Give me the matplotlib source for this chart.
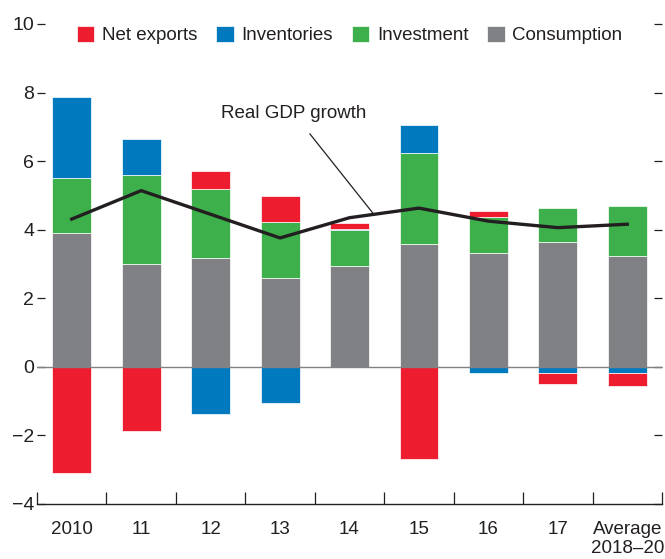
import numpy as np
import matplotlib
matplotlib.use('Agg')
import matplotlib.pyplot as plt

plt.rcParams['font.family'] = ['Liberation Sans', 'DejaVu Sans']

labels = ['2010', '11', '12', '13', '14', '15', '16', '17', 'Average\n2018\u201320']
consumption = [3.91, 3.00, 3.18, 2.59, 2.93, 3.57, 3.32, 3.64, 3.24]
investment = [1.60, 2.61, 2.02, 1.63, 1.05, 2.68, 1.06, 0.98, 1.46]
inventories = [2.36, 1.05, -1.38, -1.05, 0.05, 0.80, -0.17, -0.17, -0.17]
net_exports = [-3.09, -1.88, 0.50, 0.75, 0.17, -2.70, 0.18, -0.34, -0.40]
gdp = [4.31, 5.14, 4.45, 3.76, 4.35, 4.63, 4.25, 4.06, 4.16]

red = '#ED1C2E'
blue = '#0079BE'
green = '#3DB04B'
gray = '#808184'
txt = '#231F20'

fig = plt.figure(figsize=(6.65, 5.59), dpi=100)
ax = fig.add_axes([37/665, 55/559, 625/665, 480/559])

x = np.arange(len(labels))
w = 0.56
pos = np.zeros(len(x))
neg = np.zeros(len(x))
series = [(consumption, gray, 'Consumption'), (investment, green, 'Investment'),
          (inventories, blue, 'Inventories'), (net_exports, red, 'Net exports')]
handles = {}
for vals, col, name in series:
    vals = np.array(vals)
    bottoms = np.where(vals >= 0, pos, neg)
    b = ax.bar(x, vals, w, bottom=bottoms, color=col, edgecolor='white', linewidth=0.5, zorder=2)
    handles[name] = b
    pos = pos + np.where(vals >= 0, vals, 0)
    neg = neg + np.where(vals < 0, vals, 0)

ax.axhline(0, color='#808184', lw=1, zorder=3)
ax.plot(x, gdp, color='#231F20', lw=2.4, zorder=4)

ax.annotate('Real GDP growth', xy=(4.35, 4.45), xytext=(3.2, 7.38),
            fontsize=13.5, color=txt, ha='center', va='center',
            arrowprops=dict(arrowstyle='-', color=txt, lw=0.9, shrinkA=8, shrinkB=0))

order = ['Net exports', 'Inventories', 'Investment', 'Consumption']
ax.legend([handles[n] for n in order], order, loc='center', ncol=4, frameon=False,
          fontsize=13.5, bbox_to_anchor=(0.5, 0.977), handlelength=0.95, handleheight=0.95,
          handletextpad=0.4, columnspacing=1.0, labelcolor=txt, borderpad=0)

ax.set_xlim(-0.5, 8.5)
ax.set_ylim(-4, 10)
ax.set_yticks([-4, -2, 0, 2, 4, 6, 8, 10])
ax.set_yticklabels(['\u22124', '\u22122', '0', '2', '4', '6', '8', '10'])
ax.set_xticks(x)
ax.set_xticklabels(labels)
ax.set_xticks(np.arange(-0.5, 9, 1), minor=True)

for s in ['top', 'left', 'right']:
    ax.spines[s].set_visible(False)
ax.spines['bottom'].set_color(txt)
ax.spines['bottom'].set_linewidth(1)

ax.tick_params(axis='y', direction='in', length=6, width=0.9, color=txt, left=True, right=True,
               labelsize=14, labelcolor=txt, pad=2)
ax.tick_params(axis='x', which='major', length=0, labelsize=13.5, labelcolor=txt, pad=12)
ax.tick_params(axis='x', which='minor', direction='in', length=9, width=0.9, color=txt)

fig.savefig('out.png', dpi=100)
